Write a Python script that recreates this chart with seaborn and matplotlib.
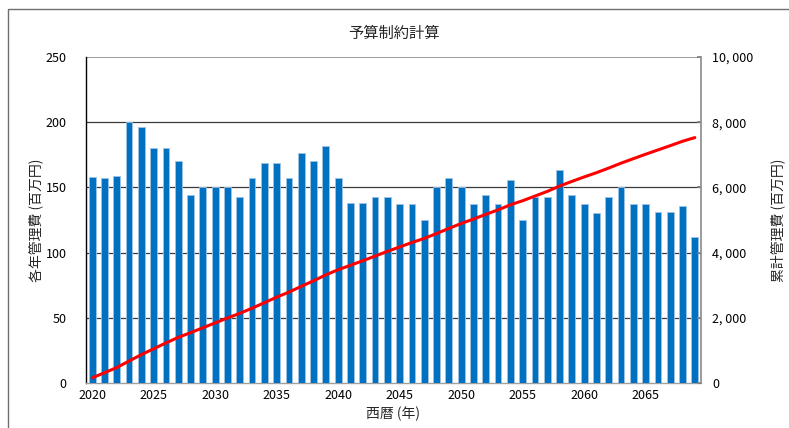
import numpy as np
import pandas as pd
import matplotlib
matplotlib.use("Agg")
import matplotlib.pyplot as plt
import seaborn as sns
from matplotlib.ticker import FuncFormatter, MultipleLocator
from matplotlib.patches import Rectangle

# Annual management cost per year (million yen)
years = list(range(2020, 2070))
annual_cost = [
    158, 157, 159, 200, 196, 180, 180, 170, 144, 150,
    150, 150, 143, 157, 169, 169, 157, 176, 170, 182,
    157, 138, 138, 143, 143, 137, 137, 125, 150, 157,
    150, 137, 144, 137, 156, 125, 143, 143, 163, 144,
    137, 130, 143, 150, 137, 137, 131, 131, 136, 112,
]
tick_years = [2020, 2025, 2030, 2035, 2040, 2045, 2050, 2055, 2060, 2065]

title = "予算制約計算"
xlabel = "西暦 (年)"
ylabel_left = "各年管理費 (百万円)"
ylabel_right = "累計管理費 (百万円)"

df = pd.DataFrame({"year": years, "cost": annual_cost})
df["cumulative"] = df["cost"].cumsum()

sns.set_theme(style="white")
plt.rcParams["font.family"] = ["Noto Sans CJK JP", "DejaVu Sans"]

fig = plt.figure(figsize=(7.89, 4.28), dpi=100)
fig.patch.set_facecolor("white")

# outer chart frame
fig.patches.append(Rectangle((8 / 789, -0.05), 1.2, (428 - 9) / 428 + 0.05,
                             transform=fig.transFigure, fill=False,
                             edgecolor="#6f6f6f", linewidth=1.0, zorder=0))

ax = fig.add_axes([86 / 789, (428 - 383) / 428, (701 - 86) / 789, (383 - 57) / 428])

sns.barplot(data=df, x="year", y="cost", ax=ax, color="#0070C0",
            width=0.55, saturation=1, edgecolor="#9DC3E6", linewidth=0.6,
            zorder=3)

ax.set_ylim(0, 250)
ax.set_xlim(-0.5, len(years) - 0.5)
ax.yaxis.set_major_locator(MultipleLocator(50))
positions = [years.index(y) for y in tick_years]
ax.set_xticks(positions)
ax.set_xticklabels([str(y) for y in tick_years])
ax.tick_params(axis="x", length=0, labelsize=9, pad=4, colors="black")
ax.tick_params(axis="y", length=0, labelsize=9, pad=14, colors="black")

for v in [50, 100, 150, 200]:
    ax.axhline(v, color="#3a3a3a", linewidth=0.9, zorder=1)
ax.axhline(250, color="#8a8a8a", linewidth=1.2, zorder=1)

ax.spines["left"].set_color("black")
ax.spines["left"].set_linewidth(1.0)
ax.spines["bottom"].set_color("#a0a0a0")
ax.spines["bottom"].set_linewidth(1.0)
ax.spines["top"].set_visible(False)
ax.spines["right"].set_visible(False)

ax.set_xlabel(xlabel, fontsize=10, labelpad=4)
ax.set_ylabel(ylabel_left, fontsize=10, labelpad=2)
ax.set_title(title, fontsize=11, pad=14)

# cumulative cost on the secondary axis
ax2 = ax.twinx()
sns.lineplot(x=np.arange(len(years)), y=df["cumulative"].to_numpy(), ax=ax2,
             color="#FF0000", linewidth=2.2, zorder=5)
ax2.set_ylim(0, 10000)
ax2.set_xlim(-0.5, len(years) - 0.5)
ax2.yaxis.set_major_locator(MultipleLocator(2000))
ax2.yaxis.set_major_formatter(FuncFormatter(lambda v, p: f"{int(v):,}".replace(",", ", ")))
ax2.tick_params(axis="y", direction="in", length=3, color="#808080",
                labelsize=9, pad=8, colors="black")
ax2.tick_params(axis="y", color="#808080")
for s in ["left", "top", "bottom"]:
    ax2.spines[s].set_visible(False)
ax2.spines["right"].set_color("#8a8a8a")
ax2.spines["right"].set_linewidth(1.2)
ax2.set_ylabel(ylabel_right, fontsize=10, rotation=90, labelpad=12)
ax2.grid(False)

fig.savefig("out.png", dpi=100, facecolor="white")
